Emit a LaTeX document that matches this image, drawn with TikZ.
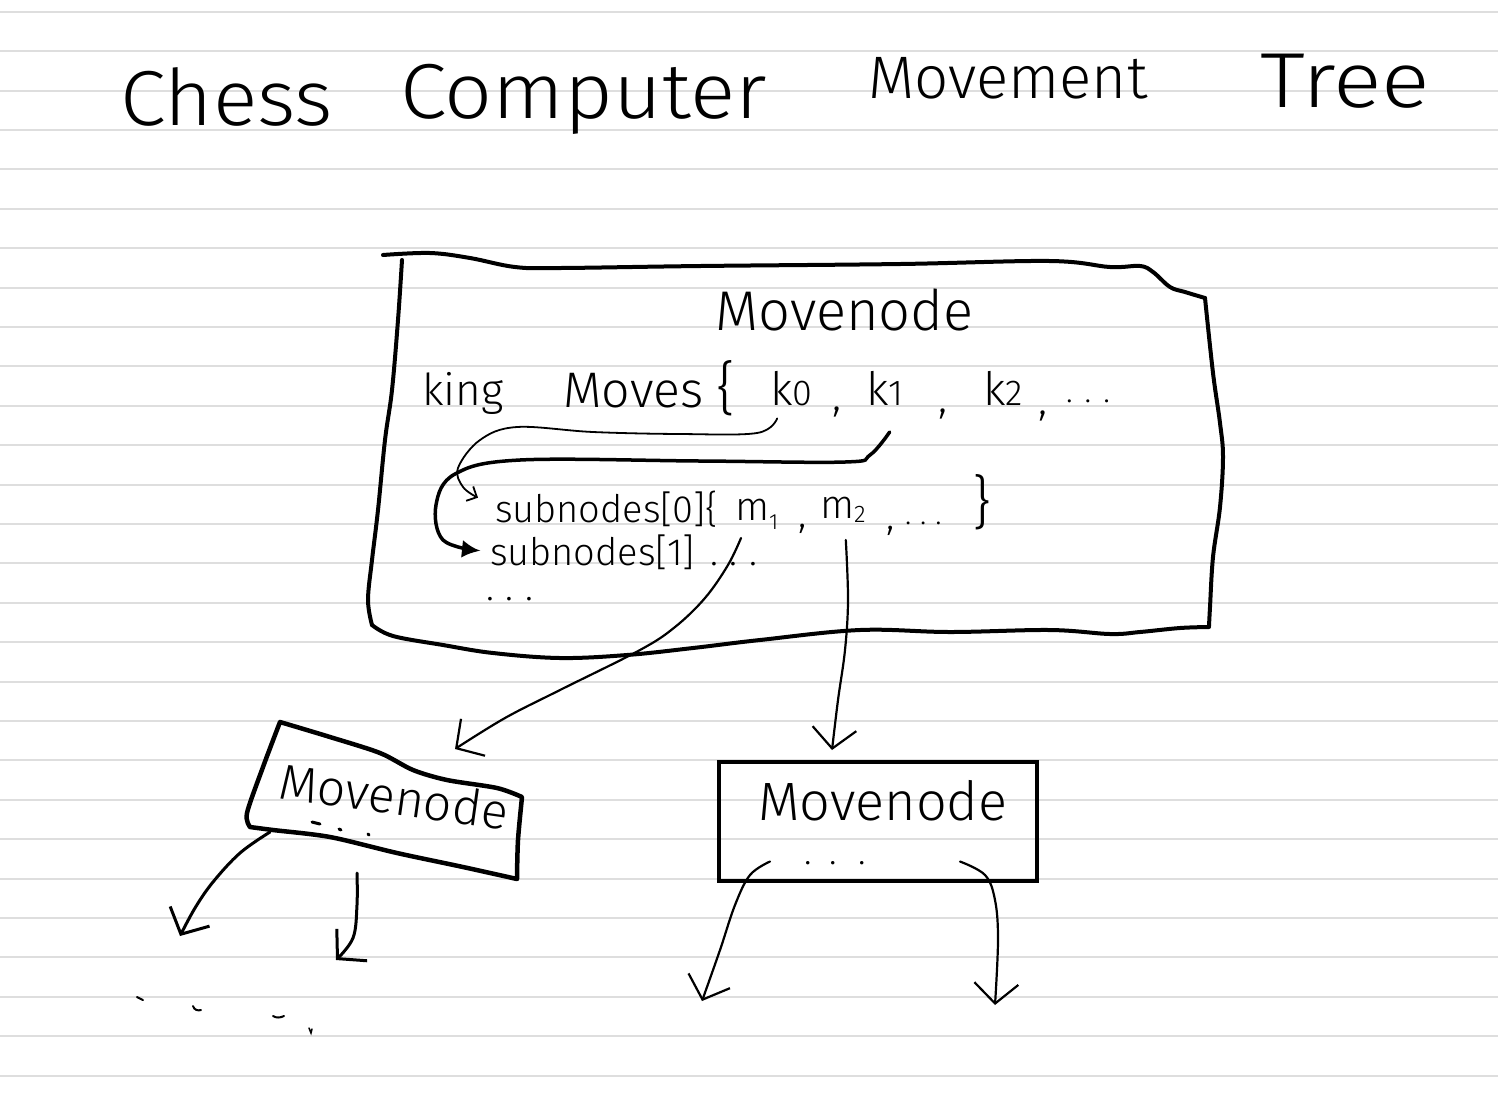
\documentclass[tikz,border=0pt]{standalone}
\usepackage{fontspec}
\setmainfont{Fira Sans Light}
\usetikzlibrary{arrows.meta}
\newcommand\hfs[1]{\fontsize{#1}{#1}\selectfont}
\begin{document}
\begin{tikzpicture}[x=1pt,y=-1pt,
  txt/.style={inner sep=0pt, outer sep=0pt, anchor=base west, text=black},
  rule/.style={draw=black!13, line width=2pt},
  hand/.style={line width=4pt, line cap=round, line join=round},
  conn/.style={line width=2.2pt, line cap=round, line join=round},
  barb/.style={-{Straight Barb[length=20pt,width=44pt]}},
  smallbarb/.style={-{Straight Barb[length=8pt,width=16pt]}},
  fillhead/.style={-{Latex[length=18pt,width=18pt]}},
  penmark/.style={line width=3pt, line cap=round}
]
\useasboundingbox (0,0) rectangle (1498,1096);
\fill[white] (0,0) rectangle (1498,1096);
\foreach \i in {0,...,27} {\draw[rule] (0,{11.7+39.4*\i}) -- (1498,{11.7+39.4*\i});}

% title
\node[txt, font=\hfs{78}, xscale=1.06] (tChess) at (120,125) {Chess};
\node[txt, font=\hfs{78}, xscale=1.08] (tComputer) at (400,118) {Computer};
\node[txt, font=\hfs{60}] (tMovement) at (868,98) {Movement};
\node[txt, font=\hfs{78}, xscale=1.16] (tTree) at (1260,107) {Tree};

% big box
\draw[hand] plot[smooth, tension=0.6] coordinates {(383,255) (430,253) (470,258) (515,267) (560,268) (700,266) (900,264) (1050,261) (1110,267) (1140,266) (1153,272) (1170,287) (1185,292) (1205,298)};
\draw[hand] plot[smooth, tension=0.6] coordinates {(1205,298) (1213,373) (1220,423) (1223,457) (1220,507) (1213,557) (1210,607) (1209,626)};
\draw[hand] plot[smooth, tension=0.6] coordinates {(1209,627) (1180,628) (1140,632) (1110,634) (1050,630) (950,632) (860,630) (760,640) (693,648) (627,655) (560,658) (493,653) (443,645) (393,636) (372,625)};
\draw[hand] plot[smooth, tension=0.6] coordinates {(402,260) (398,320) (392,390) (385,440) (378,510) (372,560) (368,600) (372,625)};

\node[txt, font=\hfs{56}] (mn) at (715,330) {Movenode};
\node[txt, font=\hfs{44}] (king) at (422,405) {king};
\node[txt, font=\hfs{50}] (moves) at (563,407) {Moves};
\node[txt, font=\hfs{58}] (lbrace) at (716,408) {\{};
\node[txt, font=\hfs{46}] (k0) at (770,405) {k{\hfs{36}0}};
\node[txt, font=\hfs{44}] (cm1) at (832,410) {,};
\node[txt, font=\hfs{46}] (k1) at (866,405) {k{\hfs{36}1}};
\node[txt, font=\hfs{44}] (cm2) at (938,412) {,};
\node[txt, font=\hfs{46}] (k2) at (983,405) {k{\hfs{36}2}};
\node[txt, font=\hfs{44}] (cm3) at (1038,414) {,};
\node[txt, font=\hfs{32}] (kdots) at (1066,402) {.\hspace{12pt}.\hspace{12pt}.};

\node[txt, font=\hfs{38}] (sub0) at (495,522) {subnodes[0]\{};
\node[txt, font=\hfs{40}] (m1) at (735,520) {m\raisebox{-9pt}{\hfs{22}1}};
\node[txt, font=\hfs{40}] (cm4) at (798,527) {,};
\node[txt, font=\hfs{40}] (m2) at (820,518) {m\raisebox{-4pt}{\hfs{24}2}};
\node[txt, font=\hfs{40}] (cm5) at (886,529) {,};
\node[txt, font=\hfs{30}] (mdots) at (905,524) {.\hspace{9pt}.\hspace{9pt}.};
\node[txt, font=\hfs{58}] (rbrace) at (972,522) {\}};

\node[txt, font=\hfs{38}] (sub1) at (490,565) {subnodes[1]};
\node[txt, font=\hfs{38}] (s1dots) at (710,565) {.\hspace{12pt}.\hspace{12pt}.};
\node[txt, font=\hfs{38}] (moredots) at (486,600) {.\hspace{12pt}.\hspace{12pt}.};

% lower right box
\node[draw, line width=4pt, minimum width=318pt, minimum height=119pt, inner sep=0pt] (rbox) at (878,821.5) {};
\node[txt, font=\hfs{54}] (rtext) at (758,820) {Movenode};
\node[txt, font=\hfs{36}] (rdots) at (804,864) {.\hspace{18pt}.\hspace{22pt}.};

% arrows inside big box
\draw[line width=1.8pt, line cap=round, smallbarb] plot[smooth, tension=0.6] coordinates {([xshift=-14pt,yshift=-13pt]k0.south) (757,433) (680,434) (593,432) (517,427) (480,440) (458,468) (463,487) ([xshift=-17pt,yshift=11pt]sub0.west)};
\draw[line width=3.5pt, line cap=round, fillhead] plot[smooth, tension=0.6] coordinates {([xshift=5pt,yshift=-27pt]k1.south) (870,455) (845,462) (700,461) (520,460) (455,474) (436,505) (443,540) ([xshift=-10pt,yshift=1pt]sub1.west)};

% named ends
\coordinate (s1c) at (741,538);
\coordinate (llin) at (455,749);

\draw[conn, barb] plot[smooth, tension=0.6] coordinates {(s1c) (728,565) (705,598) (675,627) (640,650) (560,690) (505,718) (llin)};
\draw[conn, barb] plot[smooth, tension=0.6] coordinates {([xshift=3pt,yshift=-18pt]m2.south) (848,600) (845,650) (838,700) ([xshift=-46pt,yshift=10pt]rbox.north)};

% lower left box
\draw[line width=4.5pt, line cap=round, line join=round] plot[smooth, tension=0.5] coordinates {(280,722) (330,737) (380,753) (413,770) (447,780) (497,788) (522,797)} -- plot[smooth, tension=0.5] coordinates {(522,797) (518,840) (517,878)} -- plot[smooth, tension=0.5] coordinates {(517,879) (463,867) (397,853) (330,837) (273,830) (250,827)} -- plot[smooth, tension=0.5] coordinates {(250,827) (247,813) (263,767) (280,722)};
\node[txt, font=\hfs{50}, rotate=-8] (lltext) at (277,798) {Movenode};
% hand-drawn dots under the text
\draw[penmark] (312,822) -- (320,824);
\draw[penmark] (339,829) -- (341,830);
\draw[penmark] (368,834) -- (369,835);
\coordinate (llb1) at (270,832);
\coordinate (llb2) at (357,873);
\draw[line width=3pt, line cap=round, barb] plot[smooth, tension=0.6] coordinates {(llb1) (240,853) (213,882) (195,908) (180,936)};
\draw[line width=3pt, line cap=round, barb] plot[smooth, tension=0.6] coordinates {(llb2) (357,905) (353,938) (336,960)};

% scattered marks
\draw[line width=2pt, line cap=round] (137,997) -- (143,1000);
\draw[line width=2pt, line cap=round] (193,1006) .. controls (194,1010) and (198,1011) .. (201,1010);
\draw[line width=2pt, line cap=round] (273,1016) .. controls (276,1018) and (280,1018) .. (284,1016);
\draw[line width=1.5pt, line cap=round] (309,1028) -- (311,1033) -- (312,1029);

% arrows from lower right box
\draw[conn, barb] plot[smooth, tension=0.6] coordinates {([xshift=-108pt,yshift=-40pt]rbox.center) (750,875) (735,905) (720,950) (702,1001)};
\draw[conn, barb] plot[smooth, tension=0.6] coordinates {([xshift=82pt,yshift=-40pt]rbox.center) (985,875) (995,900) (998,940) (995,1005)};
\end{tikzpicture}
\end{document}
